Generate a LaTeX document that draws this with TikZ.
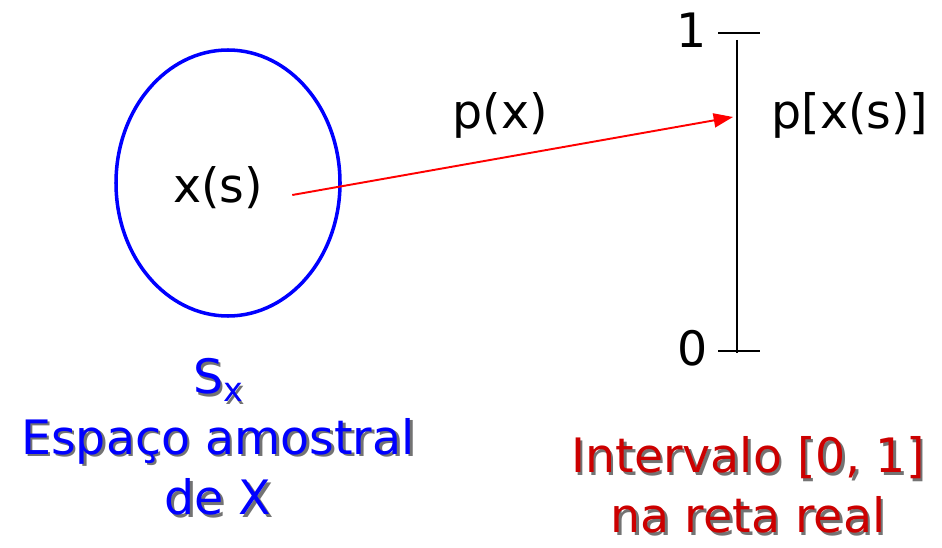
\documentclass[tikz,border=0pt]{standalone}
\usepackage{fontspec}
\setmainfont{DejaVu Sans}
\usepackage{xcolor}
\usetikzlibrary{arrows.meta,calc}

\definecolor{espblue}{RGB}{0,0,255}
\definecolor{intred}{RGB}{204,0,0}

\tikzset{
  bigtext/.style={font=\fontsize{27}{34.5}\selectfont, inner sep=0pt, align=center},
  shadowtxt/.style={bigtext, text=black!55, xshift=1.5pt, yshift=-1.5pt}
}

\newcommand{\shadowlabel}[4]{%
  \node[shadowtxt] at (#2) {#4};
  \node[bigtext, text=#3] (#1) at (#2) {#4};}

\begin{document}
\begin{tikzpicture}[x=0.02cm,y=-0.02cm]
\useasboundingbox (0,0) rectangle (942,547);

% espaco amostral
\draw[espblue, line width=2pt] (228,183) ellipse [x radius=112, y radius=133];
\node[bigtext] (xs) at (218,188) {x(s)};

% intervalo
\coordinate (top) at (737,40);
\coordinate (bot) at (737,353);
\coordinate (target) at (733,117);
\draw[line width=1.1pt] (top) -- (bot);
\draw[line width=1.1pt] (718,33) -- (760,33);
\draw[line width=1.1pt] (718,351) -- (760,351);
\node[bigtext] (one) at (692,30) {1};
\node[bigtext] (zero) at (693,348) {0};
\node[bigtext] (pxs) at (850,115) {p[x(s)]};

% mapeamento
\draw[red, line width=1.1pt, -{Triangle[length=11pt,width=8pt]}] ($(xs.east)+(29,7)$) -- (target);
\node[bigtext] (px) at (500,115) {p(x)};

% legendas
\shadowlabel{sx}{218,437}{espblue}{S\raisebox{-0.3ex}{\fontsize{19}{19}\selectfont x}\\Espaço amostral\\de X}
\shadowlabel{real}{748,485}{intred}{Intervalo [0, 1]\\na reta real}

\end{tikzpicture}
\end{document}
